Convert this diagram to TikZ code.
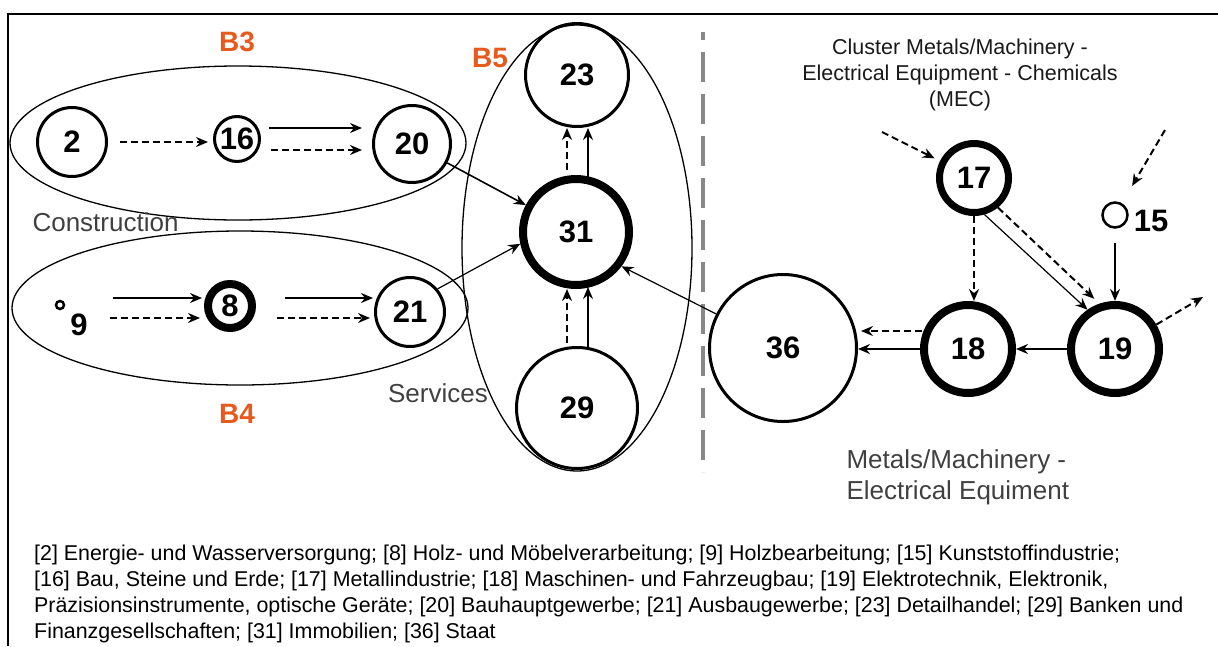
\documentclass[tikz,border=0pt]{standalone}
\usepackage{fontspec}
\setmainfont{Liberation Sans}
\usetikzlibrary{arrows.meta,shapes.geometric,calc}
\definecolor{borange}{RGB}{230,90,30}
\definecolor{lgray}{RGB}{64,64,64}
\definecolor{dgray}{RGB}{136,136,136}
\begin{document}
\begin{tikzpicture}[x=1pt,y=-1pt,
  num/.style={font=\fontsize{31}{33}\selectfont\bfseries},
  nd/.style={circle,draw,inner sep=0pt,line width=3pt,num},
  tk/.style={nd,line width=8pt},
  grp/.style={ellipse,draw,line width=1.3pt,inner sep=0pt},
  blab/.style={text=borange,font=\fontsize{28}{30}\selectfont\bfseries},
  glab/.style={text=lgray,font=\fontsize{26}{31}\selectfont},
  arr/.style={-{Stealth[length=12pt,width=10pt,inset=4pt]},line width=2pt},
  thin/.style={-{Stealth[length=12pt,width=10pt,inset=4pt]},line width=1.2pt},
  dsh/.style={dash pattern=on 7pt off 4pt},
]
\useasboundingbox (0,0) rectangle (1218,646);
% frame
\draw[line width=2pt] (8,646) -- (8,14) -- (1218,14);
% divider
\draw[dgray,line width=4pt,dash pattern=on 30pt off 12pt,dash phase=22pt] (703,32) -- (703,472);

% groups
\node[grp,minimum width=456pt,minimum height=154pt] (b3) at (238,143) {};
\node[grp,minimum width=456pt,minimum height=154pt] (b4) at (240,308) {};
\node[grp,minimum width=230pt,minimum height=446pt] (b5) at (577,248) {};

% labels
\node[blab] (lb3) at (237,42) {B3};
\node[blab] (lb4) at (237,414) {B4};
\node[blab] (lb5) at (490,58) {B5};
\node[glab,anchor=west] (lcon) at (29,222) {Construction};
\node[glab] (lser) at (438,393) {Services};
\node[font=\fontsize{21.5}{26}\selectfont,align=center,text=black!90] (ltit) at (960,75)
  {Cluster Metals/Machinery -\\Electrical Equipment - Chemicals\\(MEC)};
\node[glab,anchor=west,align=left] (lmet) at (843,477) {Metals/Machinery -\\Electrical Equiment};

% nodes
\node[nd,minimum size=69pt] (n2) at (72,142) {2};
\node[nd,minimum size=45pt] (n16) at (237,139) {16};
\node[nd,minimum size=77pt] (n20) at (412,144) {20};
\node[circle,draw,inner sep=0pt,line width=2.5pt,minimum size=8pt] (n9) at (60,305) {};
\node[num] (l9) at (79,325) {9};
\node[tk,minimum size=44pt] (n8) at (230,306) {8};
\node[nd,minimum size=69pt] (n21) at (410,312) {21};
\node[nd,minimum size=103pt] (n23) at (577,75) {23};
\node[tk,minimum size=106pt] (n31) at (576,232) {31};
\node[nd,minimum size=121pt] (n29) at (577,408) {29};
\node[nd,line width=7pt,minimum size=69pt] (n17) at (974,178) {17};
\node[circle,draw,inner sep=0pt,line width=2.5pt,minimum size=25pt] (n15) at (1115,215) {};
\node[num] (l15) at (1151,221) {15};
\node[nd,minimum size=147pt] (n36) at (783,348) {36};
\node[tk,minimum size=88pt] (n18) at (968,349) {18};
\node[tk,minimum size=88pt] (n19) at (1115,349) {19};

\coordinate (c17) at (882,132);
\coordinate (c15) at (1165,130);
\coordinate (c19) at (1203,297);

% B3 connectors
\draw[arr,dsh,shorten <=12pt,shorten >=5pt] (n2.east) -- (n2.east -| n16.west);
\draw[arr] ($(n16.east)+(8,-11)$) -- ($(n16.east -| n20.west)+(-10,-11)$);
\draw[arr,dsh] ($(n16.east)+(10,11)$) -- ($(n16.east -| n20.west)+(-10,11)$);
% B4 connectors
\draw[arr] ($(n9)+(53,-7)$) -- ($(n8.west)+(-2,-8)$);
\draw[arr,dsh] ($(n9)+(50,13)$) -- ($(n8.west)+(-4,12)$);
\draw[arr] ($(n8.east)+(29,-8)$) -- ($(n8.east -| n21.west)+(-1,-8)$);
\draw[arr,dsh] ($(n8.east)+(21,12)$) -- ($(n8.east -| n21.west)+(-4,12)$);
% into 31
\draw[arr,line width=1.6pt] (n20) -- (n31);
\draw[thin] (n21.40) -- (n31.192);
\draw[thin] (n36.153) -- (n31.323);
% B5 vertical
\draw[arr] ($(n31.north)+(12,2)$) -- ($(n23.south)+(11,0)$);
\draw[arr,dsh] ($(n31.north)+(-9,-5)$) -- ($(n23.south)+(-10,0)$);
\draw[arr] ($(n29.north)+(11,1)$) -- ($(n31.south)+(12,-2)$);
\draw[arr,dsh] ($(n29.north)+(-10,-3)$) -- ($(n31.south)+(-9,0)$);
% MEC
\draw[arr,dsh,shorten >=6pt] (c17) -- (n17);
\draw[arr,dsh,shorten >=20pt] (c15) -- (n15);
\draw[arr,shorten <=14pt] (n15.south) -- (n19.north);
\draw[arr,dsh] (n17.south) -- (n17.south |- n18.north);
\draw[thin] (n17.286) -- (n19.125);
\draw[arr,dsh,shorten >=7pt] (n17.309) -- (n19.109);
\draw[arr] (n19.west) -- (n18.east);
\draw[arr] (n18.west) -- (n18.west -| n36.east);
\draw[arr,dsh] ($(n18.west)+(2,-18)$) -- ($(n18.west -| n36.east)+(3,-18)$);
\draw[arr,dsh] (n19) -- (c19);

% legend
\node[anchor=north west,align=left,font=\fontsize{21.4}{26}\selectfont,inner sep=0pt] (leg) at (34,545)
{[2] Energie- und Wasserversorgung; [8] Holz- und Möbelverarbeitung; [9] Holzbearbeitung; [15] Kunststoffindustrie;\\{}%
[16] Bau, Steine und Erde; [17] Metallindustrie; [18] Maschinen- und Fahrzeugbau; [19] Elektrotechnik, Elektronik,\\{}%
Präzisionsinstrumente, optische Geräte; [20] Bauhauptgewerbe; [21] Ausbaugewerbe; [23] Detailhandel; [29] Banken und\\{}%
Finanzgesellschaften; [31] Immobilien; [36] Staat};
\end{tikzpicture}
\end{document}
